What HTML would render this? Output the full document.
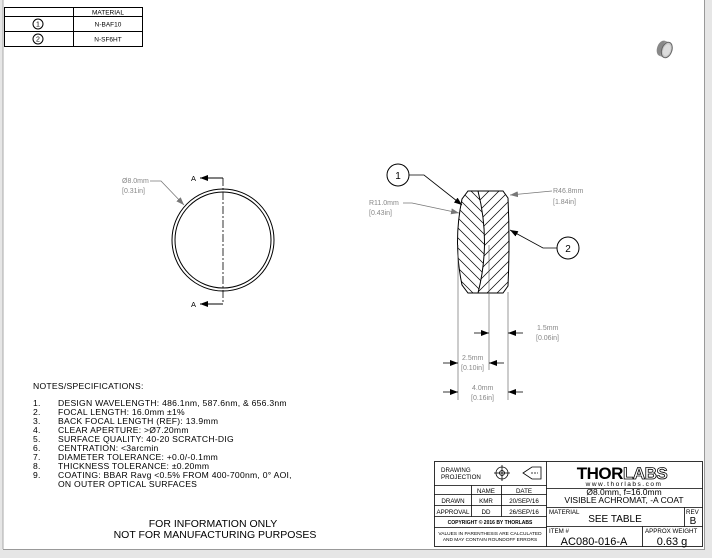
<!DOCTYPE html>
<html><head><style>
html,body{margin:0;padding:0;background:#e6e6e6;}
svg{display:block;font-family:"Liberation Sans",sans-serif;}
</style></head><body>
<svg width="712" height="558" viewBox="0 0 712 558" xmlns="http://www.w3.org/2000/svg">
<defs>
<marker id="ar" markerWidth="8" markerHeight="6" refX="8" refY="3" orient="auto" markerUnits="userSpaceOnUse"><path d="M0,0 L8,3 L0,6 Z" fill="#000"/></marker>
<marker id="arg" markerWidth="8" markerHeight="6" refX="8" refY="3" orient="auto" markerUnits="userSpaceOnUse"><path d="M0,0 L8,3 L0,6 Z" fill="#777"/></marker>
<clipPath id="c1"><path d="M468,191 L478,191 Q491,242 478,293 L468,293 L462,285 Q453,242 462,199 Z"/></clipPath>
<clipPath id="c2"><path d="M478,191 L503,191 L508,198 Q510,242 508,286 L503,293 L478,293 Q491,242 478,191 Z"/></clipPath>
</defs>
<rect x="0" y="0" width="712" height="558" fill="#e6e6e6"/>
<rect x="3" y="0" width="701" height="549" fill="#fff"/>
<line x1="3" y1="0" x2="3" y2="549" stroke="#aaa" stroke-width="1"/>
<line x1="704.5" y1="0" x2="704.5" y2="550" stroke="#999" stroke-width="1"/>
<line x1="3" y1="549.5" x2="705" y2="549.5" stroke="#999" stroke-width="1"/>

<!-- top table -->
<g stroke="#000" stroke-width="1" fill="none">
<rect x="4.5" y="7.5" width="138" height="39"/>
<line x1="73.5" y1="7.5" x2="73.5" y2="46.5"/>
<line x1="4.5" y1="16.5" x2="142.5" y2="16.5"/>
<line x1="4.5" y1="31.5" x2="142.5" y2="31.5"/>
<circle cx="38" cy="24" r="5"/>
<circle cx="38" cy="39" r="5"/>
</g>
<g font-size="6.5" text-anchor="middle" fill="#000">
<text x="108" y="14.5">MATERIAL</text>
<text x="108" y="26.5">N-BAF10</text>
<text x="108" y="41.5">N-SF6HT</text>
<text x="38" y="26.5" font-size="7">1</text>
<text x="38" y="41.5" font-size="7">2</text>
</g>

<!-- thumbnail -->
<g transform="translate(664,49) rotate(20)">
<ellipse cx="-2" cy="0" rx="5" ry="8" fill="#888"/>
<rect x="-2" y="-8" width="5" height="16" fill="#999"/>
<ellipse cx="3" cy="0" rx="5" ry="8" fill="#c8c8c8" stroke="#666" stroke-width="1"/>
<ellipse cx="3" cy="0" rx="3.5" ry="6" fill="#ddd"/>
</g>

<!-- front view circle -->
<g fill="none" stroke="#000">
<circle cx="223" cy="240" r="51" stroke-width="1"/>
<circle cx="223" cy="240" r="48" stroke-width="1"/>
<line x1="223" y1="178" x2="223" y2="304" stroke-width="0.8" stroke-dasharray="8,2,2,2"/>
<line x1="223" y1="178" x2="200" y2="178" stroke-width="1" marker-end="url(#ar)"/>
<line x1="223" y1="304" x2="200" y2="304" stroke-width="1" marker-end="url(#ar)"/>
</g>
<g font-size="7.5" fill="#000"><text x="191" y="181">A</text><text x="191" y="307">A</text></g>
<g font-size="7" fill="#888">
<text x="122" y="183">Ø8.0mm</text>
<text x="122" y="193">[0.31in]</text>
</g>
<path d="M150,181 L161,181 L184,205" fill="none" stroke="#777" stroke-width="0.8" marker-end="url(#arg)"/>

<!-- lens section -->
<g clip-path="url(#c1)" stroke="#000" stroke-width="0.7">
<line x1="440" y1="180" x2="520" y2="260"/><line x1="440" y1="190" x2="520" y2="270"/><line x1="440" y1="200" x2="520" y2="280"/><line x1="440" y1="210" x2="520" y2="290"/><line x1="440" y1="220" x2="520" y2="300"/><line x1="440" y1="230" x2="520" y2="310"/><line x1="440" y1="240" x2="520" y2="320"/><line x1="440" y1="250" x2="520" y2="330"/><line x1="440" y1="260" x2="520" y2="340"/><line x1="440" y1="270" x2="520" y2="350"/><line x1="440" y1="170" x2="520" y2="250"/><line x1="440" y1="160" x2="520" y2="240"/><line x1="440" y1="150" x2="520" y2="230"/><line x1="440" y1="140" x2="520" y2="220"/><line x1="440" y1="130" x2="520" y2="210"/>
</g>
<g clip-path="url(#c2)" stroke="#000" stroke-width="0.7">
<line x1="460" y1="220" x2="520" y2="160"/><line x1="460" y1="230" x2="520" y2="170"/><line x1="460" y1="240" x2="520" y2="180"/><line x1="460" y1="250" x2="520" y2="190"/><line x1="460" y1="260" x2="520" y2="200"/><line x1="460" y1="270" x2="520" y2="210"/><line x1="460" y1="280" x2="520" y2="220"/><line x1="460" y1="290" x2="520" y2="230"/><line x1="460" y1="300" x2="520" y2="240"/><line x1="460" y1="310" x2="520" y2="250"/><line x1="460" y1="320" x2="520" y2="260"/><line x1="460" y1="330" x2="520" y2="270"/><line x1="460" y1="340" x2="520" y2="280"/><line x1="460" y1="350" x2="520" y2="290"/>
</g>
<g fill="none" stroke="#000" stroke-width="1">
<path d="M468,191 L478,191 Q491,242 478,293 L468,293 L462,285 Q453,242 462,199 Z"/>
<path d="M478,191 L503,191 L508,198 Q510,242 508,286 L503,293 L478,293"/>
</g>
<!-- extension lines -->
<g stroke="#555" stroke-width="0.6">
<line x1="458" y1="245" x2="458" y2="400"/>
<line x1="489" y1="245" x2="489" y2="370"/>
<line x1="508" y1="292" x2="508" y2="400"/>
</g>
<g stroke="#000" stroke-width="0.8" fill="none">
<line x1="474" y1="333" x2="489" y2="333" marker-end="url(#ar)"/>
<line x1="523" y1="333" x2="508" y2="333" marker-end="url(#ar)"/>
<line x1="443" y1="363" x2="458" y2="363" marker-end="url(#ar)"/>
<line x1="504" y1="363" x2="489" y2="363" marker-end="url(#ar)"/>
<line x1="443" y1="392" x2="458" y2="392" marker-end="url(#ar)"/>
<line x1="523" y1="392" x2="508" y2="392" marker-end="url(#ar)"/>
</g>
<g font-size="7" fill="#888">
<text x="537" y="330">1.5mm</text><text x="536" y="340">[0.06in]</text>
<text x="462" y="360">2.5mm</text><text x="461" y="370">[0.10in]</text>
<text x="472" y="390">4.0mm</text><text x="471" y="400">[0.16in]</text>
<text x="369" y="205">R11.0mm</text><text x="369" y="215">[0.43in]</text>
<text x="553" y="193">R46.8mm</text><text x="553" y="204">[1.84in]</text>
</g>
<path d="M403,203 L412,203 L459,213" fill="none" stroke="#777" stroke-width="0.8" marker-end="url(#arg)"/>
<path d="M552,191 L510,195" fill="none" stroke="#777" stroke-width="0.8" marker-end="url(#arg)"/>
<!-- balloons -->
<circle cx="398" cy="175" r="11" fill="#fff" stroke="#000" stroke-width="1"/>
<text x="398" y="179" font-size="10" text-anchor="middle">1</text>
<path d="M409,175 L424,175 L462,205" fill="none" stroke="#000" stroke-width="0.8" marker-end="url(#ar)"/>
<circle cx="568" cy="248" r="11" fill="#fff" stroke="#000" stroke-width="1"/>
<text x="568" y="252" font-size="10" text-anchor="middle">2</text>
<path d="M557,248 L543,248 L510,230" fill="none" stroke="#000" stroke-width="0.8" marker-end="url(#ar)"/>

<!-- notes -->
<g font-size="8.6" fill="#000" letter-spacing="0.25">
<text x="33" y="389">NOTES/SPECIFICATIONS:</text>
<text x="33" y="406">1.</text><text x="58" y="406">DESIGN WAVELENGTH: 486.1nm, 587.6nm, &amp; 656.3nm</text>
<text x="33" y="415">2.</text><text x="58" y="415">FOCAL LENGTH: 16.0mm ±1%</text>
<text x="33" y="424">3.</text><text x="58" y="424">BACK FOCAL LENGTH (REF): 13.9mm</text>
<text x="33" y="433">4.</text><text x="58" y="433">CLEAR APERTURE: &gt;Ø7.20mm</text>
<text x="33" y="442">5.</text><text x="58" y="442">SURFACE QUALITY: 40-20 SCRATCH-DIG</text>
<text x="33" y="451">6.</text><text x="58" y="451">CENTRATION: &lt;3arcmin</text>
<text x="33" y="460">7.</text><text x="58" y="460">DIAMETER TOLERANCE: +0.0/-0.1mm</text>
<text x="33" y="469">8.</text><text x="58" y="469">THICKNESS TOLERANCE: ±0.20mm</text>
<text x="33" y="478">9.</text><text x="58" y="478">COATING: BBAR Ravg &lt;0.5% FROM 400-700nm, 0° AOI,</text>
<text x="58" y="487">ON OUTER OPTICAL SURFACES</text>
</g>
<g font-size="10.5" fill="#000" text-anchor="middle">
<text x="213" y="527">FOR INFORMATION ONLY</text>
<text x="215" y="538">NOT FOR MANUFACTURING PURPOSES</text>
</g>

<!-- title block -->
<g stroke="#000" stroke-width="0.8" fill="none">
<rect x="434.5" y="461.5" width="268" height="85"/>
<line x1="546.5" y1="461.5" x2="546.5" y2="546.5"/>
<line x1="434.5" y1="485.5" x2="546.5" y2="485.5"/>
<line x1="434.5" y1="494.5" x2="546.5" y2="494.5"/>
<line x1="434.5" y1="505.5" x2="546.5" y2="505.5"/>
<line x1="434.5" y1="516.5" x2="546.5" y2="516.5"/>
<line x1="434.5" y1="527.5" x2="546.5" y2="527.5"/>
<line x1="471.5" y1="485.5" x2="471.5" y2="516.5"/>
<line x1="501.5" y1="485.5" x2="501.5" y2="516.5"/>
<line x1="546.5" y1="488.5" x2="702.5" y2="488.5"/>
<line x1="546.5" y1="507.5" x2="702.5" y2="507.5"/>
<line x1="546.5" y1="526.5" x2="702.5" y2="526.5"/>
<line x1="684.5" y1="507.5" x2="684.5" y2="526.5"/>
<line x1="642.5" y1="526.5" x2="642.5" y2="546.5"/>
<circle cx="502" cy="473" r="6"/><circle cx="502" cy="473" r="2.5"/>
<line x1="494" y1="473" x2="510" y2="473"/><line x1="502" y1="465" x2="502" y2="481"/>
<path d="M523,473 L532,467 L541,467 L541,479 L532,479 Z"/>
<line x1="531" y1="473" x2="538" y2="473" stroke-dasharray="2,1"/>
</g>
<g font-size="6.2" fill="#000">
<text x="441" y="472">DRAWING</text><text x="441" y="479">PROJECTION</text>
<text x="486" y="493" text-anchor="middle">NAME</text><text x="524" y="493" text-anchor="middle">DATE</text>
<text x="453" y="503" text-anchor="middle">DRAWN</text><text x="486" y="503" text-anchor="middle">KMR</text><text x="524" y="503" text-anchor="middle">20/SEP/16</text>
<text x="453" y="514" text-anchor="middle">APPROVAL</text><text x="486" y="514" text-anchor="middle">DD</text><text x="524" y="514" text-anchor="middle">26/SEP/16</text>
<text x="490" y="524" text-anchor="middle" font-size="5" font-weight="bold">COPYRIGHT © 2016 BY THORLABS</text>
<text x="490" y="535" text-anchor="middle" font-size="4.8">VALUES IN PARENTHESIS ARE CALCULATED</text>
<text x="490" y="541" text-anchor="middle" font-size="4.8">AND MAY CONTAIN ROUNDOFF ERRORS</text>
<text x="549" y="514">MATERIAL</text>
<text x="686" y="514">REV</text>
<text x="549" y="533">ITEM #</text>
<text x="645" y="533">APPROX WEIGHT</text>
</g>
<text x="622" y="479" font-size="17" font-weight="bold" text-anchor="middle" fill="#000" letter-spacing="-0.5">THOR<tspan fill="#fff" stroke="#000" stroke-width="0.8">LABS</tspan></text>
<text x="624" y="486" font-size="6.5" text-anchor="middle" letter-spacing="1.5" fill="#000">www.thorlabs.com</text>
<text x="624" y="495" font-size="8.5" text-anchor="middle">Ø8.0mm, f=16.0mm</text>
<text x="624" y="503" font-size="8.5" text-anchor="middle">VISIBLE ACHROMAT, -A COAT</text>
<text x="615" y="522" font-size="10" text-anchor="middle">SEE TABLE</text>
<text x="693" y="524" font-size="10" text-anchor="middle">B</text>
<text x="594" y="545" font-size="11" text-anchor="middle">AC080-016-A</text>
<text x="672" y="545" font-size="11" text-anchor="middle">0.63 g</text>
</svg>
</body></html>
